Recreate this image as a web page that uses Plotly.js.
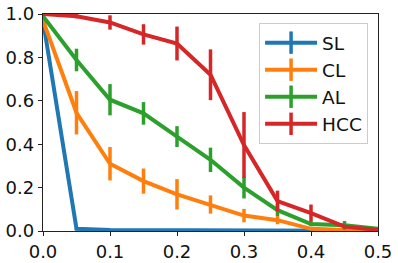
<!DOCTYPE html>
<html><head><meta charset="utf-8">
<script src="https://cdn.plot.ly/plotly-3.0.1.min.js"></script>
<style>html,body{margin:0;padding:0;background:#fff;}</style>
</head><body><div id="chart" style="width:398px;height:263px;"></div>
<script>
const xVals = [0.0, 0.05, 0.1, 0.15, 0.2, 0.25, 0.3, 0.35, 0.4, 0.45, 0.5];
const seriesNames = ["SL", "CL", "AL", "HCC"];
const slMean = [0.97, 0.01, 0.005, 0.005, 0.005, 0.004, 0.004, 0.003, 0.002, 0.001, 0.0];
const slErr  = [0.0, 0.005, 0.004, 0.004, 0.004, 0.003, 0.003, 0.003, 0.002, 0.001, 0.0];
const clMean = [0.97, 0.545, 0.31, 0.23, 0.169, 0.122, 0.071, 0.05, 0.01, 0.005, 0.002];
const clErr  = [0.0, 0.1, 0.077, 0.058, 0.07, 0.042, 0.031, 0.019, 0.005, 0.003, 0.001];
const alMean = [0.99, 0.788, 0.605, 0.542, 0.435, 0.328, 0.2, 0.096, 0.032, 0.026, 0.01];
const alErr  = [0.0, 0.052, 0.072, 0.052, 0.048, 0.056, 0.05, 0.027, 0.01, 0.02, 0.005];
const hccMean = [1.0, 0.99, 0.961, 0.906, 0.864, 0.72, 0.396, 0.138, 0.082, 0.02, 0.005];
const hccErr  = [0.0, 0.01, 0.033, 0.047, 0.078, 0.117, 0.152, 0.048, 0.04, 0.008, 0.004];
const colors = ["#1f77b4", "#ff7f0e", "#2ca02c", "#d62728"];

const means = [slMean, clMean, alMean, hccMean];
const errs = [slErr, clErr, alErr, hccErr];

const traces = seriesNames.map((name, i) => ({
  x: xVals, y: means[i], name: name, type: 'scatter', mode: 'lines',
  showlegend: false,
  line: {color: colors[i], width: 4},
  error_y: {type: 'data', array: errs[i], visible: true, color: colors[i], thickness: 3.5, width: 0}
}));
// legend-only entries (line with vertical error-bar glyph, as in the original legend)
seriesNames.forEach((name, i) => {
  traces.push({
    x: [null], y: [null], name: name, type: 'scatter', mode: 'lines+markers',
    line: {color: colors[i], width: 4},
    marker: {symbol: 'line-ns', size: 19, color: colors[i], line: {color: colors[i], width: 3.5}}
  });
});

const axisCommon = {
  showline: true, linecolor: '#222', linewidth: 1.2, mirror: true,
  ticks: 'outside', ticklen: 4, tickwidth: 1, tickcolor: '#222',
  showgrid: false, zeroline: false,
  tickfont: {family: 'DejaVu Sans', size: 18, color: '#111'}
};

const layout = {
  width: 398, height: 263,
  margin: {l: 43, r: 20, t: 14, b: 32},
  paper_bgcolor: '#fff', plot_bgcolor: '#fff',
  showlegend: true,
  xaxis: Object.assign({}, axisCommon, {range: [0, 0.5], dtick: 0.1, tickformat: '.1f'}),
  yaxis: Object.assign({}, axisCommon, {range: [0, 1], dtick: 0.2, tickformat: '.1f'}),
  legend: {
    x: 0.645, y: 0.958, xanchor: 'left', yanchor: 'top',
    bgcolor: 'rgba(255,255,255,0.8)', bordercolor: '#ccc', borderwidth: 1,
    font: {family: 'DejaVu Sans', size: 18.5, color: '#111'},
    itemwidth: 52
  }
};

Plotly.newPlot('chart', traces, layout, {displayModeBar: false, staticPlot: true});
</script></body></html>
